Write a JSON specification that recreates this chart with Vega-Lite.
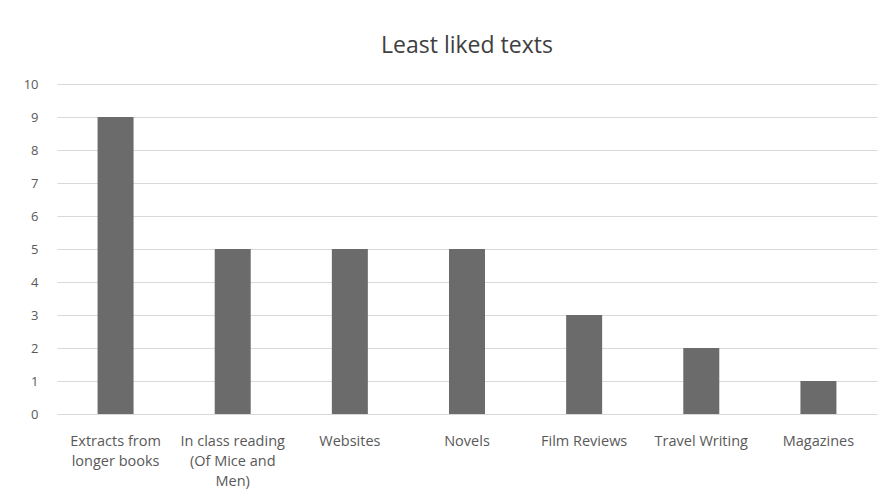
{
  "$schema": "https://vega.github.io/schema/vega-lite/v6.json",
  "width": 820,
  "height": 330,
  "autosize": {"type": "none"},
  "padding": {"left": 57, "top": 84, "right": 14, "bottom": 88},
  "background": "white",
  "title": {
    "text": "Least liked texts",
    "fontSize": 23,
    "font": "Open Sans",
    "fontWeight": "normal",
    "color": "#404040",
    "anchor": "middle",
    "offset": 20
  },
  "data": {
    "values": [
      {"category": "Extracts from|longer books", "count": 9},
      {"category": "In class reading|(Of Mice and|Men)", "count": 5},
      {"category": "Websites", "count": 5},
      {"category": "Novels", "count": 5},
      {"category": "Film Reviews", "count": 3},
      {"category": "Travel Writing", "count": 2},
      {"category": "Magazines", "count": 1}
    ]
  },
  "mark": {"type": "bar", "color": "#6b6b6b", "size": 36},
  "encoding": {
    "x": {
      "field": "category",
      "type": "nominal",
      "sort": null,
      "title": null,
      "scale": {"paddingInner": 0, "paddingOuter": 0},
      "axis": {
        "labelExpr": "split(datum.label, '|')",
        "labelAngle": 0,
        "labelFont": "Open Sans",
        "labelFontSize": 14.5,
        "labelColor": "#595959",
        "labelLineHeight": 20,
        "labelPadding": 20,
        "labelBaseline": "top",
        "domain": false,
        "ticks": false,
        "labelLimit": 200
      }
    },
    "y": {
      "field": "count",
      "type": "quantitative",
      "title": null,
      "scale": {"domain": [0, 10]},
      "axis": {
        "values": [0, 1, 2, 3, 4, 5, 6, 7, 8, 9, 10],
        "labelFont": "Open Sans",
        "labelFontSize": 13,
        "labelColor": "#595959",
        "labelPadding": 19,
        "domain": false,
        "ticks": false,
        "gridColor": "#d9d9d9",
        "gridWidth": 1
      }
    }
  },
  "config": {"view": {"stroke": null}}
}
